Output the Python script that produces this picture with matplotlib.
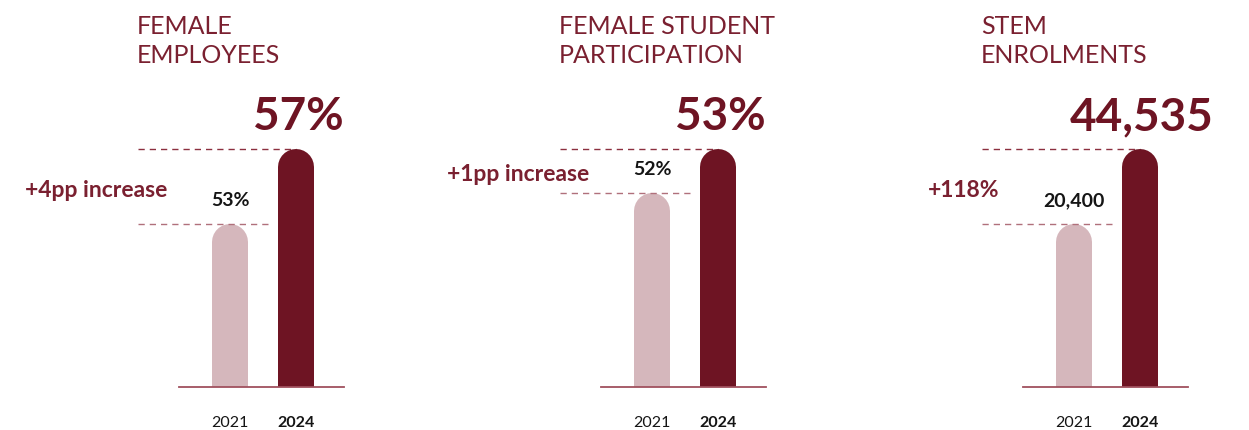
import matplotlib
matplotlib.use("Agg")
import matplotlib.pyplot as plt
import matplotlib.transforms as mtransforms

# data
titles = ["FEMALE\nEMPLOYEES", "FEMALE STUDENT\nPARTICIPATION", "STEM\nENROLMENTS"]
years = ["2021", "2024"]
values_2021 = [53, 52, 20400]
values_2024 = [57, 53, 44535]
labels_2021 = ["53%", "52%", "20,400"]
labels_2024 = ["57%", "53%", "44,535"]
change_labels = ["+4pp increase", "+1pp increase", "+118%"]

# infographic bars are not to scale: value where each panel's baseline sits
y_floor = [44.31, 47.59, -32054]
change_left_px = [-154, -154, -95]

DARK = "#6e1423"
LIGHT = "#d5b7bc"
TXT = "#7a2030"
AXIS = "#a0505e"

plt.rcParams["font.family"] = ["Lato", "DejaVu Sans"]

W, H = 1249, 431
DPI = 100
fig = plt.figure(figsize=(W / DPI, H / DPI), dpi=DPI)

PX = 72.0 / DPI          # points per pixel
bar_px = 36
unit_px = 66             # pixels between the two bar centres
base_px, top_px = 388, 130
bar_top_px = 150

for i in range(3):
    L = 179 + 422 * i
    ax = fig.add_axes([L / W, (H - base_px) / H, 165 / W, (base_px - top_px) / H])
    v21, v24 = values_2021[i], values_2024[i]
    fl = y_floor[i]
    ytop = fl + (v24 - fl) * (base_px - top_px) / (base_px - bar_top_px)
    ax.set_ylim(fl, ytop)
    ax.set_xlim(-51 / unit_px, 1 + 48 / unit_px)
    ax.axis("off")
    ax.plot([-51 / unit_px, 1 + 48 / unit_px], [fl, fl], color=AXIS, lw=1.3,
            clip_on=False, zorder=4)

    # round-topped bars: thick lines with round caps, shifted down by half width
    lw = bar_px * PX
    tr = mtransforms.offset_copy(ax.transData, fig=fig, x=0, y=-lw / 2, units="points")
    span = ytop - fl
    for x, v, c in zip([0, 1], [v21, v24], [LIGHT, DARK]):
        ax.plot([x, x], [fl - span, v], color=c, lw=lw, solid_capstyle="round",
                transform=tr, zorder=3)

    # dashed guide lines
    x0 = -51 / unit_px - 41 / unit_px
    top_line, = ax.plot([x0, 1], [v24, v24], color="#8c2f3f", lw=1.0,
                        clip_on=False, zorder=1)
    low_line, = ax.plot([x0, 1 - 23 / unit_px], [v21, v21], color="#b0707b", lw=1.0,
                        clip_on=False, zorder=5)
    top_line.set_dashes((4.5, 3.6))
    low_line.set_dashes((4.5, 3.6))

    # values
    ax.annotate(labels_2024[i], (1, v24), xytext=(2 * PX, 20 * PX),
                textcoords="offset points", ha="center", va="baseline",
                fontsize=33, fontweight="bold", color=DARK, annotation_clip=False)
    ax.annotate(labels_2021[i], (0, v21), xytext=(0, 19 * PX),
                textcoords="offset points", ha="center", va="baseline",
                fontsize=14, fontweight="bold", color="#151515", annotation_clip=False)

    # change label, centred between the guides
    ax.annotate(change_labels[i], (-51 / unit_px, (v21 + v24) / 2),
                xytext=(change_left_px[i] * PX, -3 * PX), textcoords="offset points",
                ha="left", va="center", fontsize=16.5, fontweight="bold", color=TXT,
                annotation_clip=False)

    # year labels
    for x, yr, wt in zip([0, 1], years, ["normal", "bold"]):
        ax.annotate(yr, (x, fl), xytext=(0, -39 * PX), textcoords="offset points",
                    ha="center", va="baseline", fontsize=11.5, fontweight=wt,
                    color="#151515", annotation_clip=False)

    # title
    fig.text((L - 42) / W, 1 - 15 / H, titles[i], ha="left", va="top",
             fontsize=18, color=TXT, linespacing=1.32)

fig.savefig("out.png", dpi=DPI)
